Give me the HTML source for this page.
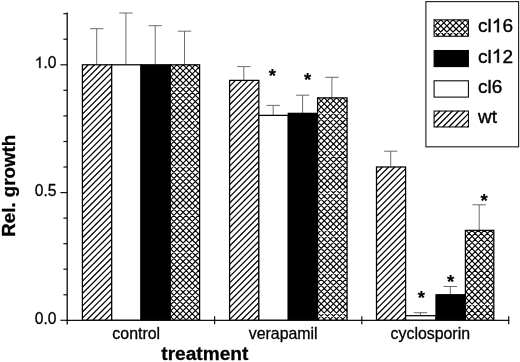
<!DOCTYPE html>
<html><head><meta charset="utf-8"><title>chart</title>
<style>
html,body{margin:0;padding:0;background:#fff;}
body{width:520px;height:362px;overflow:hidden;position:relative;font-family:"Liberation Sans",sans-serif;}
svg{position:absolute;left:0;top:0;display:block;will-change:transform;}
text{font-family:"Liberation Sans",sans-serif;fill:#000;stroke:#000;stroke-width:0.3px;stroke-linejoin:round;}
</style></head><body>
<svg width="520" height="362" viewBox="0 0 520 362">
<rect width="520" height="362" fill="#fff"/>

<g stroke="#5c5c5c" stroke-width="0.9" fill="none">
<path d="M96.7,64.8 V28.7 M90.0,28.7 H103.4"/>
<path d="M125.9,64.8 V13.0 M119.2,13.0 H132.6"/>
<path d="M155.2,64.8 V25.7 M148.6,25.7 H161.9"/>
<path d="M184.5,64.8 V31.2 M177.8,31.2 H191.2"/>
<path d="M243.8,80.4 V66.6 M237.1,66.6 H250.5"/>
<path d="M273.2,115.4 V105.4 M266.5,105.4 H279.9"/>
<path d="M302.6,113.3 V95.2 M295.9,95.2 H309.3"/>
<path d="M331.9,97.9 V77.3 M325.2,77.3 H338.6"/>
<path d="M390.7,167.0 V151.2 M384.0,151.2 H397.4"/>
<path d="M420.4,315.7 V312.7 M413.7,312.7 H427.1"/>
<path d="M450.3,294.8 V286.5 M443.6,286.5 H457.0"/>
<path d="M479.2,230.4 V204.8 M472.5,204.8 H485.9"/>
</g>
<g stroke="#000" stroke-width="1.25">
<g transform="translate(82.40,64.80)"><rect width="29.30" height="255.50" fill="#fff" stroke="none"/><path d="M0.00,5.98L5.98,0.00M0.00,12.17L12.17,0.00M0.00,18.36L18.36,0.00M0.00,24.54L24.54,0.00M0.00,30.72L29.30,1.43M0.00,36.91L29.30,7.61M0.00,43.09L29.30,13.79M0.00,49.28L29.30,19.98M0.00,55.46L29.30,26.16M0.00,61.65L29.30,32.35M0.00,67.83L29.30,38.53M0.00,74.02L29.30,44.72M0.00,80.20L29.30,50.91M0.00,86.39L29.30,57.09M0.00,92.57L29.30,63.27M0.00,98.76L29.30,69.46M0.00,104.94L29.30,75.64M0.00,111.13L29.30,81.83M0.00,117.31L29.30,88.01M0.00,123.50L29.30,94.20M0.00,129.69L29.30,100.39M0.00,135.87L29.30,106.57M0.00,142.06L29.30,112.76M0.00,148.24L29.30,118.94M0.00,154.43L29.30,125.13M0.00,160.61L29.30,131.31M0.00,166.79L29.30,137.50M0.00,172.98L29.30,143.68M0.00,179.16L29.30,149.87M0.00,185.35L29.30,156.05M0.00,191.53L29.30,162.24M0.00,197.72L29.30,168.42M0.00,203.91L29.30,174.61M0.00,210.09L29.30,180.79M0.00,216.28L29.30,186.98M0.00,222.46L29.30,193.16M0.00,228.65L29.30,199.35M0.00,234.83L29.30,205.53M0.00,241.01L29.30,211.71M0.00,247.20L29.30,217.90M0.00,253.38L29.30,224.08M4.07,255.50L29.30,230.27M10.25,255.50L29.30,236.45M16.44,255.50L29.30,242.64M22.62,255.50L29.30,248.82M28.81,255.50L29.30,255.01" stroke="#000" stroke-width="1.22" fill="none"/><rect width="29.30" height="255.50" fill="none" stroke="#000" stroke-width="1.25"/></g>
<g transform="translate(111.70,64.80)"><rect width="29.30" height="255.50" fill="#fff" stroke="none"/><rect width="29.30" height="255.50" fill="none" stroke="#000" stroke-width="1.25"/></g>
<g transform="translate(141.00,64.80)"><rect width="29.30" height="255.50" fill="#000" stroke="#000" stroke-width="1.25"/></g>
<g transform="translate(170.30,64.80)"><rect width="29.30" height="255.50" fill="#fff" stroke="none"/><path d="M0.00,0.35L0.35,0.00M0.00,6.50L6.50,0.00M0.00,12.65L12.65,0.00M0.00,18.80L18.80,0.00M0.00,24.95L24.95,0.00M0.00,31.10L29.30,1.80M0.00,37.25L29.30,7.95M0.00,43.40L29.30,14.10M0.00,49.55L29.30,20.25M0.00,55.70L29.30,26.40M0.00,61.85L29.30,32.55M0.00,68.00L29.30,38.70M0.00,74.15L29.30,44.85M0.00,80.30L29.30,51.00M0.00,86.45L29.30,57.15M0.00,92.60L29.30,63.30M0.00,98.75L29.30,69.45M0.00,104.90L29.30,75.60M0.00,111.05L29.30,81.75M0.00,117.20L29.30,87.90M0.00,123.35L29.30,94.05M0.00,129.50L29.30,100.20M0.00,135.65L29.30,106.35M0.00,141.80L29.30,112.50M0.00,147.95L29.30,118.65M0.00,154.10L29.30,124.80M0.00,160.25L29.30,130.95M0.00,166.40L29.30,137.10M0.00,172.55L29.30,143.25M0.00,178.70L29.30,149.40M0.00,184.85L29.30,155.55M0.00,191.00L29.30,161.70M0.00,197.15L29.30,167.85M0.00,203.30L29.30,174.00M0.00,209.45L29.30,180.15M0.00,215.60L29.30,186.30M0.00,221.75L29.30,192.45M0.00,227.90L29.30,198.60M0.00,234.05L29.30,204.75M0.00,240.20L29.30,210.90M0.00,246.35L29.30,217.05M0.00,252.50L29.30,223.20M3.15,255.50L29.30,229.35M9.30,255.50L29.30,235.50M15.45,255.50L29.30,241.65M21.60,255.50L29.30,247.80M27.75,255.50L29.30,253.95M0.00,251.55L3.95,255.50M0.00,245.40L10.10,255.50M0.00,239.25L16.25,255.50M0.00,233.10L22.40,255.50M0.00,226.95L28.55,255.50M0.00,220.80L29.30,250.10M0.00,214.65L29.30,243.95M0.00,208.50L29.30,237.80M0.00,202.35L29.30,231.65M0.00,196.20L29.30,225.50M0.00,190.05L29.30,219.35M0.00,183.90L29.30,213.20M0.00,177.75L29.30,207.05M0.00,171.60L29.30,200.90M0.00,165.45L29.30,194.75M0.00,159.30L29.30,188.60M0.00,153.15L29.30,182.45M0.00,147.00L29.30,176.30M0.00,140.85L29.30,170.15M0.00,134.70L29.30,164.00M0.00,128.55L29.30,157.85M0.00,122.40L29.30,151.70M0.00,116.25L29.30,145.55M0.00,110.10L29.30,139.40M0.00,103.95L29.30,133.25M0.00,97.80L29.30,127.10M0.00,91.65L29.30,120.95M0.00,85.50L29.30,114.80M0.00,79.35L29.30,108.65M0.00,73.20L29.30,102.50M0.00,67.05L29.30,96.35M0.00,60.90L29.30,90.20M0.00,54.75L29.30,84.05M0.00,48.60L29.30,77.90M0.00,42.45L29.30,71.75M0.00,36.30L29.30,65.60M0.00,30.15L29.30,59.45M0.00,24.00L29.30,53.30M0.00,17.85L29.30,47.15M0.00,11.70L29.30,41.00M0.00,5.55L29.30,34.85M0.60,0.00L29.30,28.70M6.75,0.00L29.30,22.55M12.90,0.00L29.30,16.40M19.05,0.00L29.30,10.25M25.20,0.00L29.30,4.10" stroke="#000" stroke-width="1.15" fill="none"/><rect width="29.30" height="255.50" fill="none" stroke="#000" stroke-width="1.25"/></g>
<g transform="translate(229.60,80.39)"><rect width="29.25" height="239.91" fill="#fff" stroke="none"/><path d="M0.00,5.94L5.94,0.00M0.00,12.08L12.08,0.00M0.00,18.22L18.22,0.00M0.00,24.36L24.36,0.00M0.00,30.50L29.25,1.25M0.00,36.64L29.25,7.39M0.00,42.78L29.25,13.53M0.00,48.92L29.25,19.67M0.00,55.06L29.25,25.81M0.00,61.20L29.25,31.95M0.00,67.34L29.25,38.09M0.00,73.48L29.25,44.23M0.00,79.62L29.25,50.37M0.00,85.76L29.25,56.51M0.00,91.90L29.25,62.65M0.00,98.04L29.25,68.79M0.00,104.18L29.25,74.93M0.00,110.32L29.25,81.07M0.00,116.46L29.25,87.21M0.00,122.60L29.25,93.35M0.00,128.74L29.25,99.49M0.00,134.88L29.25,105.63M0.00,141.02L29.25,111.77M0.00,147.16L29.25,117.91M0.00,153.30L29.25,124.05M0.00,159.44L29.25,130.19M0.00,165.58L29.25,136.33M0.00,171.72L29.25,142.47M0.00,177.86L29.25,148.61M0.00,184.00L29.25,154.75M0.00,190.14L29.25,160.89M0.00,196.28L29.25,167.03M0.00,202.42L29.25,173.17M0.00,208.56L29.25,179.31M0.00,214.70L29.25,185.45M0.00,220.84L29.25,191.59M0.00,226.98L29.25,197.73M0.00,233.12L29.25,203.87M0.00,239.26L29.25,210.01M5.49,239.91L29.25,216.15M11.63,239.91L29.25,222.29M17.77,239.91L29.25,228.43M23.91,239.91L29.25,234.57" stroke="#000" stroke-width="1.22" fill="none"/><rect width="29.25" height="239.91" fill="none" stroke="#000" stroke-width="1.25"/></g>
<g transform="translate(258.85,115.39)"><rect width="29.45" height="204.91" fill="#fff" stroke="none"/><rect width="29.45" height="204.91" fill="none" stroke="#000" stroke-width="1.25"/></g>
<g transform="translate(288.30,113.34)"><rect width="29.30" height="206.96" fill="#000" stroke="#000" stroke-width="1.25"/></g>
<g transform="translate(317.60,97.89)"><rect width="29.45" height="222.41" fill="#fff" stroke="none"/><path d="M0.00,0.35L0.35,0.00M0.00,6.50L6.50,0.00M0.00,12.65L12.65,0.00M0.00,18.80L18.80,0.00M0.00,24.95L24.95,0.00M0.00,31.10L29.45,1.65M0.00,37.25L29.45,7.80M0.00,43.40L29.45,13.95M0.00,49.55L29.45,20.10M0.00,55.70L29.45,26.25M0.00,61.85L29.45,32.40M0.00,68.00L29.45,38.55M0.00,74.15L29.45,44.70M0.00,80.30L29.45,50.85M0.00,86.45L29.45,57.00M0.00,92.60L29.45,63.15M0.00,98.75L29.45,69.30M0.00,104.90L29.45,75.45M0.00,111.05L29.45,81.60M0.00,117.20L29.45,87.75M0.00,123.35L29.45,93.90M0.00,129.50L29.45,100.05M0.00,135.65L29.45,106.20M0.00,141.80L29.45,112.35M0.00,147.95L29.45,118.50M0.00,154.10L29.45,124.65M0.00,160.25L29.45,130.80M0.00,166.40L29.45,136.95M0.00,172.55L29.45,143.10M0.00,178.70L29.45,149.25M0.00,184.85L29.45,155.40M0.00,191.00L29.45,161.55M0.00,197.15L29.45,167.70M0.00,203.30L29.45,173.85M0.00,209.45L29.45,180.00M0.00,215.60L29.45,186.15M0.00,221.75L29.45,192.30M5.49,222.41L29.45,198.45M11.64,222.41L29.45,204.60M17.79,222.41L29.45,210.75M23.94,222.41L29.45,216.90M0.00,220.80L1.61,222.41M0.00,214.65L7.76,222.41M0.00,208.50L13.91,222.41M0.00,202.35L20.06,222.41M0.00,196.20L26.21,222.41M0.00,190.05L29.45,219.50M0.00,183.90L29.45,213.35M0.00,177.75L29.45,207.20M0.00,171.60L29.45,201.05M0.00,165.45L29.45,194.90M0.00,159.30L29.45,188.75M0.00,153.15L29.45,182.60M0.00,147.00L29.45,176.45M0.00,140.85L29.45,170.30M0.00,134.70L29.45,164.15M0.00,128.55L29.45,158.00M0.00,122.40L29.45,151.85M0.00,116.25L29.45,145.70M0.00,110.10L29.45,139.55M0.00,103.95L29.45,133.40M0.00,97.80L29.45,127.25M0.00,91.65L29.45,121.10M0.00,85.50L29.45,114.95M0.00,79.35L29.45,108.80M0.00,73.20L29.45,102.65M0.00,67.05L29.45,96.50M0.00,60.90L29.45,90.35M0.00,54.75L29.45,84.20M0.00,48.60L29.45,78.05M0.00,42.45L29.45,71.90M0.00,36.30L29.45,65.75M0.00,30.15L29.45,59.60M0.00,24.00L29.45,53.45M0.00,17.85L29.45,47.30M0.00,11.70L29.45,41.15M0.00,5.55L29.45,35.00M0.60,0.00L29.45,28.85M6.75,0.00L29.45,22.70M12.90,0.00L29.45,16.55M19.05,0.00L29.45,10.40M25.20,0.00L29.45,4.25" stroke="#000" stroke-width="1.15" fill="none"/><rect width="29.45" height="222.41" fill="none" stroke="#000" stroke-width="1.25"/></g>
<g transform="translate(376.50,167.00)"><rect width="29.10" height="153.30" fill="#fff" stroke="none"/><path d="M0.00,5.98L5.98,0.00M0.00,12.17L12.17,0.00M0.00,18.36L18.36,0.00M0.00,24.54L24.54,0.00M0.00,30.72L29.10,1.62M0.00,36.91L29.10,7.81M0.00,43.09L29.10,13.99M0.00,49.28L29.10,20.18M0.00,55.46L29.10,26.36M0.00,61.65L29.10,32.55M0.00,67.83L29.10,38.73M0.00,74.02L29.10,44.92M0.00,80.20L29.10,51.10M0.00,86.39L29.10,57.29M0.00,92.57L29.10,63.47M0.00,98.76L29.10,69.66M0.00,104.94L29.10,75.84M0.00,111.13L29.10,82.03M0.00,117.31L29.10,88.21M0.00,123.50L29.10,94.40M0.00,129.69L29.10,100.58M0.00,135.87L29.10,106.77M0.00,142.06L29.10,112.95M0.00,148.24L29.10,119.14M1.13,153.30L29.10,125.32M7.31,153.30L29.10,131.51M13.50,153.30L29.10,137.69M19.68,153.30L29.10,143.88M25.87,153.30L29.10,150.06" stroke="#000" stroke-width="1.22" fill="none"/><rect width="29.10" height="153.30" fill="none" stroke="#000" stroke-width="1.25"/></g>
<g transform="translate(405.60,315.70)"><rect width="30.40" height="4.60" fill="#fff" stroke="none"/><rect width="30.40" height="4.60" fill="none" stroke="#000" stroke-width="1.25"/></g>
<g transform="translate(436.00,294.75)"><rect width="29.40" height="25.55" fill="#000" stroke="#000" stroke-width="1.25"/></g>
<g transform="translate(465.40,230.36)"><rect width="28.40" height="89.94" fill="#fff" stroke="none"/><path d="M0.00,0.35L0.35,0.00M0.00,6.50L6.50,0.00M0.00,12.65L12.65,0.00M0.00,18.80L18.80,0.00M0.00,24.95L24.95,0.00M0.00,31.10L28.40,2.70M0.00,37.25L28.40,8.85M0.00,43.40L28.40,15.00M0.00,49.55L28.40,21.15M0.00,55.70L28.40,27.30M0.00,61.85L28.40,33.45M0.00,68.00L28.40,39.60M0.00,74.15L28.40,45.75M0.00,80.30L28.40,51.90M0.00,86.45L28.40,58.05M2.66,89.94L28.40,64.20M8.81,89.94L28.40,70.35M14.96,89.94L28.40,76.50M21.11,89.94L28.40,82.65M27.26,89.94L28.40,88.80M0.00,85.50L4.44,89.94M0.00,79.35L10.59,89.94M0.00,73.20L16.74,89.94M0.00,67.05L22.89,89.94M0.00,60.90L28.40,89.30M0.00,54.75L28.40,83.15M0.00,48.60L28.40,77.00M0.00,42.45L28.40,70.85M0.00,36.30L28.40,64.70M0.00,30.15L28.40,58.55M0.00,24.00L28.40,52.40M0.00,17.85L28.40,46.25M0.00,11.70L28.40,40.10M0.00,5.55L28.40,33.95M0.60,0.00L28.40,27.80M6.75,0.00L28.40,21.65M12.90,0.00L28.40,15.50M19.05,0.00L28.40,9.35M25.20,0.00L28.40,3.20" stroke="#000" stroke-width="1.15" fill="none"/><rect width="28.40" height="89.94" fill="none" stroke="#000" stroke-width="1.25"/></g>
</g>
<g stroke="#111" stroke-width="1.35" fill="none">
<path d="M67.2,12.6 V324.5"/>
<path d="M66.6,320.3 H509.3"/>
</g>
<g stroke="#111" stroke-width="1.2" fill="none">
<path d="M60.4,320.3 H67.2"/>
<path d="M63.4,294.8 H67.2"/>
<path d="M63.4,269.2 H67.2"/>
<path d="M63.4,243.7 H67.2"/>
<path d="M63.4,218.1 H67.2"/>
<path d="M60.4,192.6 H67.2"/>
<path d="M63.4,167.0 H67.2"/>
<path d="M63.4,141.5 H67.2"/>
<path d="M63.4,115.9 H67.2"/>
<path d="M63.4,90.3 H67.2"/>
<path d="M60.4,64.8 H67.2"/>
<path d="M63.4,39.2 H67.2"/>
<path d="M63.4,13.7 H67.2"/>
<path d="M214.6,316.2 V324.2"/>
<path d="M361.8,316.2 V324.2"/>
<path d="M508.7,316.2 V324.2"/>
</g>
<g id="txt">
<text x="56.4" y="324.2" font-size="15.6" text-anchor="end">0.0</text>
<text x="56.4" y="195.7" font-size="15.6" text-anchor="end">0.5</text>
<path transform="translate(34.72,67.90) scale(0.00762,-0.00762)" d="M763,0H583V1147Q518,1085 412.5,1023Q307,961 223,930V1104Q374,1175 487,1276Q600,1377 647,1472H763Z" fill="#000" stroke="#000" stroke-width="0.3" stroke-linejoin="round" vector-effect="non-scaling-stroke"/>
<text x="56.4" y="67.9" font-size="15.6" text-anchor="end">.0</text>
<text x="136.2" y="338.6" font-size="15.9" text-anchor="middle">control</text>
<text x="283.2" y="338.6" font-size="15.9" text-anchor="middle">verapamil</text>
<text x="430.3" y="338.6" font-size="15.9" text-anchor="middle">cyclosporin</text>
<text x="204.8" y="359.6" font-size="19.1" font-weight="bold" text-anchor="middle">treatment</text>
<text transform="translate(15.2,185.8) rotate(-90)" font-size="18.7" font-weight="bold" text-anchor="middle">Rel. growth</text>
<text x="272.3" y="81.9" font-size="18.5" font-weight="bold" text-anchor="middle" style="stroke-width:0.15px">*</text>
<text x="307.5" y="86.4" font-size="18.5" font-weight="bold" text-anchor="middle" style="stroke-width:0.15px">*</text>
<text x="421.3" y="303.5" font-size="18.5" font-weight="bold" text-anchor="middle" style="stroke-width:0.15px">*</text>
<text x="450.5" y="288.3" font-size="18.5" font-weight="bold" text-anchor="middle" style="stroke-width:0.15px">*</text>
<text x="484.0" y="206.5" font-size="18.5" font-weight="bold" text-anchor="middle" style="stroke-width:0.15px">*</text>
</g>
<rect x="425.9" y="1.6" width="92.7" height="145.2" fill="#fff" stroke="#222" stroke-width="1.15"/>
<g stroke="#000" stroke-width="1.1">
<g transform="translate(434.10,19.85)"><rect width="34.30" height="16.40" fill="#fff" stroke="none"/><path d="M0.00,0.35L0.35,0.00M0.00,6.50L6.50,0.00M0.00,12.65L12.65,0.00M2.40,16.40L18.80,0.00M8.55,16.40L24.95,0.00M14.70,16.40L31.10,0.00M20.85,16.40L34.30,2.95M27.00,16.40L34.30,9.10M33.15,16.40L34.30,15.25M0.00,11.70L4.70,16.40M0.00,5.55L10.85,16.40M0.60,0.00L17.00,16.40M6.75,0.00L23.15,16.40M12.90,0.00L29.30,16.40M19.05,0.00L34.30,15.25M25.20,0.00L34.30,9.10M31.35,0.00L34.30,2.95" stroke="#000" stroke-width="1.15" fill="none"/><rect width="34.30" height="16.40" fill="none" stroke="#000" stroke-width="1.05"/></g>
<g transform="translate(434.10,50.50)"><rect width="34.30" height="16.10" fill="#000" stroke="#000" stroke-width="1.05"/></g>
<g transform="translate(434.10,80.80)"><rect width="34.30" height="16.30" fill="#fff" stroke="none"/><rect width="34.30" height="16.30" fill="none" stroke="#000" stroke-width="1.05"/></g>
<g transform="translate(434.10,111.05)"><rect width="34.30" height="15.90" fill="#fff" stroke="none"/><path d="M0.00,5.98L5.98,0.00M0.00,12.17L12.17,0.00M2.46,15.90L18.36,0.00M8.64,15.90L24.54,0.00M14.82,15.90L30.72,0.00M21.01,15.90L34.30,2.61M27.19,15.90L34.30,8.79M33.38,15.90L34.30,14.98" stroke="#000" stroke-width="1.22" fill="none"/><rect width="34.30" height="15.90" fill="none" stroke="#000" stroke-width="1.05"/></g>
</g>
<g id="ltxt" style="stroke-width:0.4px">
<text x="478.1" y="32.2" font-size="19" style="stroke-width:0.4px">cl</text>
<path transform="translate(491.82,32.20) scale(0.00928,-0.00928)" d="M763,0H583V1147Q518,1085 412.5,1023Q307,961 223,930V1104Q374,1175 487,1276Q600,1377 647,1472H763Z" fill="#000" stroke="#000" stroke-width="0.4" stroke-linejoin="round" vector-effect="non-scaling-stroke"/>
<text x="502.38" y="32.2" font-size="19" style="stroke-width:0.4px">6</text>
<text x="478.1" y="62.6" font-size="19" style="stroke-width:0.4px">cl</text>
<path transform="translate(491.82,62.60) scale(0.00928,-0.00928)" d="M763,0H583V1147Q518,1085 412.5,1023Q307,961 223,930V1104Q374,1175 487,1276Q600,1377 647,1472H763Z" fill="#000" stroke="#000" stroke-width="0.4" stroke-linejoin="round" vector-effect="non-scaling-stroke"/>
<text x="502.38" y="62.6" font-size="19" style="stroke-width:0.4px">2</text>
<text x="478.1" y="93.0" font-size="19" style="stroke-width:0.4px">cl6</text>
<text x="478.1" y="123.4" font-size="19" style="stroke-width:0.4px">wt</text>
</g>
</svg></body></html>
